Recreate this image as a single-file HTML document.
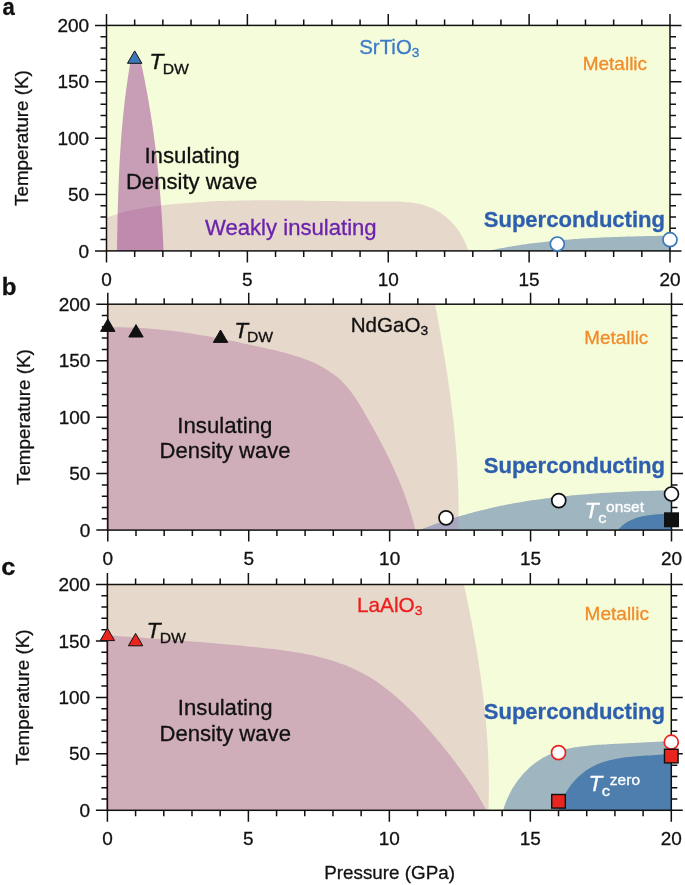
<!DOCTYPE html>
<html><head><meta charset="utf-8"><style>
html,body{margin:0;padding:0;background:#fff;}
svg{display:block;will-change:transform;}
text{font-family:'Liberation Sans',sans-serif;stroke-width:0.3px;} text:not([fill]){fill:#111;stroke:#111;}
</style></head><body>
<svg width="685" height="885" viewBox="0 0 685 885">
<rect width="685" height="885" fill="#fff"/>
<clipPath id="ca"><rect x="106.5" y="25.4" width="563.50" height="225.50"/></clipPath>
<g clip-path="url(#ca)">
<rect x="106.5" y="25.4" width="563.50" height="225.50" fill="#f5fcd9"/>
<path d="M104.50,218.70 C105.27,218.39 107.56,217.44 109.10,216.85 C110.64,216.26 112.19,215.71 113.75,215.18 C115.31,214.65 116.88,214.15 118.45,213.67 C120.03,213.19 121.61,212.74 123.20,212.31 C124.79,211.88 126.39,211.48 127.99,211.09 C129.59,210.71 131.20,210.35 132.81,210.00 C134.42,209.66 136.04,209.33 137.66,209.02 C139.28,208.72 140.90,208.43 142.53,208.15 C144.16,207.87 145.79,207.61 147.42,207.36 C149.05,207.11 150.69,206.88 152.33,206.65 C153.96,206.42 155.60,206.21 157.24,206.00 C158.88,205.79 160.52,205.59 162.16,205.40 C163.79,205.21 165.43,205.03 167.07,204.85 C168.71,204.67 170.35,204.50 171.98,204.33 C173.62,204.16 175.26,204.01 176.90,203.85 C178.54,203.70 180.17,203.55 181.81,203.41 C183.45,203.27 185.08,203.14 186.72,203.01 C188.36,202.88 190.00,202.75 191.63,202.64 C193.27,202.52 194.91,202.40 196.54,202.30 C198.18,202.19 199.82,202.09 201.45,201.99 C203.09,201.89 204.73,201.80 206.36,201.72 C208.00,201.63 209.64,201.55 211.27,201.47 C212.91,201.39 214.55,201.32 216.18,201.25 C217.82,201.18 219.46,201.12 221.10,201.06 C222.73,201.00 224.37,200.95 226.01,200.90 C227.65,200.84 229.28,200.80 230.92,200.75 C232.56,200.71 234.20,200.67 235.83,200.64 C237.47,200.60 239.11,200.57 240.75,200.54 C242.39,200.51 244.03,200.48 245.66,200.46 C247.30,200.44 248.94,200.42 250.58,200.41 C252.22,200.39 253.86,200.38 255.50,200.37 C257.14,200.36 258.78,200.35 260.42,200.34 C262.06,200.34 263.70,200.34 265.34,200.34 C266.98,200.34 268.63,200.34 270.27,200.34 C271.91,200.35 273.55,200.35 275.19,200.36 C276.84,200.37 278.48,200.38 280.12,200.39 C281.77,200.40 283.41,200.42 285.05,200.43 C286.70,200.45 288.34,200.46 289.99,200.48 C291.63,200.50 293.28,200.52 294.92,200.54 C296.57,200.56 298.22,200.58 299.86,200.60 C301.51,200.63 303.16,200.65 304.81,200.67 C306.45,200.70 308.10,200.72 309.75,200.75 C311.40,200.77 313.05,200.80 314.70,200.82 C316.35,200.85 318.00,200.87 319.65,200.90 C321.31,200.92 322.96,200.95 324.61,200.97 C326.26,201.00 327.92,201.02 329.57,201.05 C331.23,201.07 332.88,201.10 334.54,201.12 C336.19,201.15 337.85,201.17 339.50,201.19 C341.16,201.21 342.82,201.23 344.48,201.25 C346.14,201.28 347.79,201.29 349.45,201.31 C351.11,201.33 352.78,201.35 354.44,201.36 C356.10,201.38 357.76,201.39 359.42,201.40 C361.09,201.42 362.75,201.43 364.42,201.43 C366.08,201.44 367.75,201.45 369.41,201.45 C371.08,201.46 372.75,201.46 374.42,201.46 C376.08,201.46 377.75,201.46 379.42,201.45 C381.09,201.45 382.77,201.44 384.44,201.43 C386.11,201.43 387.78,201.42 389.44,201.43 C391.11,201.44 392.78,201.45 394.43,201.48 C396.09,201.51 397.75,201.55 399.40,201.62 C401.05,201.69 402.69,201.78 404.32,201.89 C405.95,202.01 407.58,202.15 409.19,202.33 C410.80,202.51 412.41,202.71 414.00,202.97 C415.59,203.22 417.17,203.51 418.73,203.85 C420.29,204.18 421.84,204.56 423.37,205.00 C424.90,205.44 426.42,205.92 427.91,206.47 C429.41,207.02 430.89,207.63 432.34,208.30 C433.80,208.97 435.24,209.70 436.65,210.49 C438.06,211.28 439.44,212.13 440.80,213.04 C442.15,213.95 443.48,214.91 444.77,215.93 C446.07,216.94 447.33,218.02 448.55,219.14 C449.77,220.26 450.96,221.44 452.10,222.66 C453.25,223.87 454.35,225.14 455.41,226.45 C456.47,227.75 457.49,229.11 458.45,230.49 C459.42,231.86 460.33,233.28 461.20,234.73 C462.06,236.17 462.87,237.64 463.63,239.13 C464.38,240.62 465.08,242.14 465.72,243.67 C466.36,245.20 466.94,246.75 467.45,248.31 C467.97,249.86 468.58,252.22 468.80,253.00 L104.5,253 Z" fill="#e6d8cb"/>
<path d="M485.30,251.40 C485.69,251.31 486.85,251.06 487.63,250.89 C488.41,250.72 489.19,250.56 489.96,250.40 C490.74,250.23 491.52,250.07 492.30,249.91 C493.08,249.75 493.86,249.60 494.64,249.44 C495.42,249.28 496.20,249.13 496.98,248.98 C497.76,248.83 498.54,248.68 499.32,248.53 C500.10,248.38 500.88,248.23 501.66,248.09 C502.44,247.94 503.22,247.80 504.01,247.66 C504.79,247.52 505.57,247.38 506.35,247.24 C507.14,247.11 507.92,246.97 508.70,246.84 C509.49,246.70 510.27,246.57 511.05,246.44 C511.84,246.31 512.62,246.18 513.41,246.05 C514.19,245.92 514.98,245.80 515.76,245.68 C516.55,245.55 517.33,245.43 518.12,245.31 C518.90,245.19 519.69,245.07 520.48,244.95 C521.26,244.83 522.05,244.72 522.84,244.60 C523.62,244.49 524.41,244.38 525.20,244.27 C525.99,244.16 526.77,244.05 527.56,243.94 C528.35,243.83 529.14,243.72 529.93,243.62 C530.71,243.51 531.50,243.41 532.29,243.31 C533.08,243.21 533.87,243.11 534.66,243.01 C535.45,242.91 536.24,242.81 537.03,242.71 C537.82,242.62 538.61,242.52 539.40,242.43 C540.19,242.34 540.98,242.24 541.77,242.15 C542.56,242.06 543.35,241.97 544.14,241.89 C544.93,241.80 545.72,241.71 546.52,241.63 C547.31,241.54 548.10,241.46 548.89,241.37 C549.68,241.29 550.47,241.21 551.27,241.13 C552.06,241.05 552.85,240.97 553.64,240.90 C554.44,240.82 555.23,240.74 556.02,240.67 C556.82,240.59 557.61,240.52 558.40,240.45 C559.20,240.37 559.99,240.30 560.78,240.23 C561.58,240.16 562.37,240.09 563.16,240.02 C563.96,239.96 564.75,239.89 565.55,239.83 C566.34,239.76 567.13,239.70 567.93,239.63 C568.72,239.57 569.52,239.51 570.31,239.45 C571.11,239.38 571.90,239.32 572.70,239.27 C573.49,239.21 574.29,239.15 575.08,239.09 C575.88,239.04 576.67,238.98 577.47,238.92 C578.26,238.87 579.06,238.82 579.86,238.76 C580.65,238.71 581.45,238.66 582.24,238.61 C583.04,238.56 583.83,238.51 584.63,238.46 C585.43,238.41 586.22,238.36 587.02,238.31 C587.82,238.27 588.61,238.22 589.41,238.18 C590.20,238.13 591.00,238.09 591.80,238.04 C592.59,238.00 593.39,237.96 594.19,237.91 C594.98,237.87 595.78,237.83 596.58,237.79 C597.37,237.75 598.17,237.71 598.97,237.67 C599.76,237.63 600.56,237.60 601.36,237.56 C602.16,237.52 602.95,237.48 603.75,237.45 C604.55,237.41 605.34,237.38 606.14,237.34 C606.94,237.31 607.73,237.28 608.53,237.24 C609.33,237.21 610.13,237.18 610.92,237.15 C611.72,237.12 612.52,237.09 613.31,237.06 C614.11,237.03 614.91,237.00 615.71,236.97 C616.50,236.94 617.30,236.91 618.10,236.88 C618.89,236.85 619.69,236.83 620.49,236.80 C621.29,236.77 622.08,236.75 622.88,236.72 C623.68,236.70 624.47,236.67 625.27,236.65 C626.07,236.62 626.87,236.60 627.66,236.58 C628.46,236.55 629.26,236.53 630.05,236.51 C630.85,236.48 631.65,236.46 632.44,236.44 C633.24,236.42 634.04,236.40 634.83,236.38 C635.63,236.36 636.43,236.34 637.22,236.32 C638.02,236.30 638.82,236.28 639.61,236.26 C640.41,236.24 641.21,236.22 642.00,236.20 C642.80,236.18 643.59,236.17 644.39,236.15 C645.19,236.13 645.98,236.11 646.78,236.10 C647.57,236.08 648.37,236.06 649.17,236.04 C649.96,236.03 650.76,236.01 651.55,236.00 C652.35,235.98 653.14,235.96 653.94,235.95 C654.73,235.93 655.53,235.92 656.32,235.90 C657.12,235.89 657.91,235.87 658.71,235.86 C659.50,235.84 660.30,235.83 661.09,235.81 C661.89,235.80 662.68,235.78 663.48,235.77 C664.27,235.75 665.06,235.74 665.86,235.73 C666.65,235.71 667.45,235.70 668.24,235.68 C669.03,235.67 669.83,235.66 670.62,235.64 C671.41,235.63 672.60,235.61 673.00,235.60 L673,253 L485,253 Z" fill="#9fb5bf"/>
<path d="M116.90,252.90 C116.91,252.09 116.95,249.66 116.98,248.04 C117.01,246.42 117.03,244.80 117.06,243.18 C117.09,241.56 117.12,239.94 117.15,238.32 C117.18,236.70 117.21,235.08 117.24,233.46 C117.27,231.84 117.30,230.22 117.33,228.60 C117.37,226.98 117.40,225.36 117.44,223.74 C117.47,222.12 117.51,220.49 117.54,218.87 C117.58,217.25 117.62,215.63 117.66,214.01 C117.70,212.38 117.74,210.76 117.79,209.14 C117.83,207.52 117.87,205.90 117.92,204.27 C117.97,202.65 118.02,201.03 118.07,199.41 C118.12,197.79 118.17,196.16 118.22,194.54 C118.28,192.92 118.33,191.30 118.39,189.68 C118.45,188.05 118.51,186.43 118.57,184.81 C118.64,183.19 118.70,181.57 118.77,179.94 C118.84,178.32 118.91,176.70 118.98,175.08 C119.06,173.46 119.13,171.84 119.21,170.22 C119.29,168.59 119.37,166.97 119.46,165.35 C119.54,163.73 119.63,162.11 119.72,160.49 C119.81,158.87 119.90,157.25 120.00,155.63 C120.10,154.01 120.20,152.39 120.30,150.77 C120.40,149.15 120.51,147.54 120.62,145.92 C120.73,144.30 120.85,142.68 120.96,141.06 C121.08,139.44 121.20,137.83 121.33,136.21 C121.45,134.59 121.58,132.98 121.72,131.36 C121.85,129.74 121.99,128.13 122.13,126.51 C122.27,124.90 122.42,123.28 122.57,121.67 C122.72,120.05 122.87,118.44 123.03,116.82 C123.19,115.21 123.35,113.60 123.52,111.99 C123.69,110.37 123.86,108.76 124.04,107.15 C124.22,105.54 124.40,103.93 124.59,102.32 C124.77,100.71 124.96,99.10 125.16,97.49 C125.36,95.88 125.56,94.27 125.77,92.66 C125.98,91.05 126.19,89.45 126.41,87.84 C126.62,86.23 126.85,84.63 127.08,83.02 C127.31,81.42 127.54,79.81 127.78,78.21 C128.02,76.61 128.27,75.00 128.52,73.40 C128.77,71.80 129.03,70.20 129.29,68.60 C129.55,67.00 129.96,64.60 130.10,63.80 C130.40,60.30 140.90,60.00 141.20,63.50 C141.37,64.30 141.89,66.69 142.23,68.29 C142.57,69.88 142.91,71.48 143.24,73.08 C143.57,74.67 143.89,76.27 144.21,77.87 C144.54,79.47 144.85,81.07 145.16,82.67 C145.48,84.28 145.78,85.88 146.09,87.48 C146.39,89.08 146.69,90.69 146.98,92.29 C147.28,93.90 147.57,95.50 147.85,97.11 C148.14,98.72 148.42,100.32 148.70,101.93 C148.97,103.54 149.25,105.15 149.51,106.76 C149.78,108.37 150.05,109.98 150.31,111.59 C150.57,113.20 150.82,114.81 151.07,116.42 C151.32,118.04 151.57,119.65 151.82,121.26 C152.06,122.88 152.30,124.49 152.53,126.10 C152.77,127.72 153.00,129.34 153.23,130.95 C153.45,132.57 153.68,134.18 153.90,135.80 C154.12,137.42 154.33,139.04 154.54,140.66 C154.75,142.27 154.96,143.89 155.17,145.51 C155.37,147.13 155.57,148.75 155.76,150.37 C155.96,151.99 156.15,153.61 156.34,155.24 C156.53,156.86 156.72,158.48 156.90,160.10 C157.08,161.73 157.26,163.35 157.43,164.97 C157.60,166.59 157.77,168.22 157.94,169.84 C158.11,171.47 158.27,173.09 158.43,174.72 C158.59,176.34 158.75,177.97 158.90,179.59 C159.05,181.22 159.20,182.84 159.35,184.47 C159.49,186.10 159.63,187.72 159.77,189.35 C159.91,190.98 160.05,192.61 160.18,194.23 C160.31,195.86 160.44,197.49 160.57,199.12 C160.69,200.75 160.81,202.37 160.93,204.00 C161.05,205.63 161.17,207.26 161.28,208.89 C161.39,210.52 161.50,212.15 161.61,213.78 C161.72,215.41 161.82,217.04 161.92,218.66 C162.02,220.29 162.12,221.92 162.21,223.55 C162.31,225.18 162.40,226.81 162.49,228.44 C162.58,230.07 162.66,231.70 162.74,233.33 C162.83,234.97 162.91,236.60 162.98,238.23 C163.06,239.86 163.13,241.49 163.21,243.12 C163.28,244.75 163.35,246.38 163.41,248.01 C163.48,249.64 163.57,252.08 163.60,252.90 Z" fill="rgba(145,45,140,0.45)"/>
</g>
<rect x="106.5" y="25.4" width="563.50" height="225.50" fill="none" stroke="#111" stroke-width="1.5"/>
<path d="M106.50,250.90v11.5M106.50,25.40v-11.5M134.68,250.90v6M134.68,25.40v-6M162.85,250.90v6M162.85,25.40v-6M191.03,250.90v6M191.03,25.40v-6M219.20,250.90v6M219.20,25.40v-6M247.38,250.90v11.5M247.38,25.40v-11.5M275.55,250.90v6M275.55,25.40v-6M303.73,250.90v6M303.73,25.40v-6M331.90,250.90v6M331.90,25.40v-6M360.08,250.90v6M360.08,25.40v-6M388.25,250.90v11.5M388.25,25.40v-11.5M416.43,250.90v6M416.43,25.40v-6M444.60,250.90v6M444.60,25.40v-6M472.78,250.90v6M472.78,25.40v-6M500.95,250.90v6M500.95,25.40v-6M529.12,250.90v11.5M529.12,25.40v-11.5M557.30,250.90v6M557.30,25.40v-6M585.48,250.90v6M585.48,25.40v-6M613.65,250.90v6M613.65,25.40v-6M641.83,250.90v6M641.83,25.40v-6M670.00,250.90v11.5M670.00,25.40v-11.5M106.50,250.90h-11.5M670.00,250.90h11.5M106.50,239.62h-6M670.00,239.62h6M106.50,228.35h-6M670.00,228.35h6M106.50,217.08h-6M670.00,217.08h6M106.50,205.80h-6M670.00,205.80h6M106.50,194.53h-11.5M670.00,194.53h11.5M106.50,183.25h-6M670.00,183.25h6M106.50,171.98h-6M670.00,171.98h6M106.50,160.70h-6M670.00,160.70h6M106.50,149.43h-6M670.00,149.43h6M106.50,138.15h-11.5M670.00,138.15h11.5M106.50,126.88h-6M670.00,126.88h6M106.50,115.60h-6M670.00,115.60h6M106.50,104.33h-6M670.00,104.33h6M106.50,93.05h-6M670.00,93.05h6M106.50,81.78h-11.5M670.00,81.78h11.5M106.50,70.50h-6M670.00,70.50h6M106.50,59.23h-6M670.00,59.23h6M106.50,47.95h-6M670.00,47.95h6M106.50,36.68h-6M670.00,36.68h6M106.50,25.40h-11.5M670.00,25.40h11.5" stroke="#111" stroke-width="1.5" fill="none"/>
<text transform="translate(89.13,257.50) scale(1.015,1)" text-anchor="end" font-size="18.7">0</text>
<text transform="translate(89.13,201.12) scale(1.015,1)" text-anchor="end" font-size="18.7">50</text>
<text transform="translate(89.13,144.75) scale(1.015,1)" text-anchor="end" font-size="18.7">100</text>
<text transform="translate(89.13,88.38) scale(1.015,1)" text-anchor="end" font-size="18.7">150</text>
<text transform="translate(89.13,32.00) scale(1.015,1)" text-anchor="end" font-size="18.7">200</text>
<text transform="translate(106.50,286.00) scale(1.015,1)" text-anchor="middle" font-size="18.7">0</text>
<text transform="translate(247.38,286.00) scale(1.015,1)" text-anchor="middle" font-size="18.7">5</text>
<text transform="translate(388.25,286.00) scale(1.015,1)" text-anchor="middle" font-size="18.7">10</text>
<text transform="translate(529.12,286.00) scale(1.015,1)" text-anchor="middle" font-size="18.7">15</text>
<text transform="translate(670.00,286.00) scale(1.015,1)" text-anchor="middle" font-size="18.7">20</text>
<text transform="translate(28.15,138.05) rotate(-90) scale(1.0056,1)" text-anchor="middle" font-size="18.7">Temperature (K)</text>
<path d="M134.68,50.90L141.88,63.30L127.48,63.30Z" fill="#3a78b9" stroke="#111" stroke-width="1" stroke-linejoin="miter"/>
<circle cx="557.30" cy="244.00" r="7.0" fill="#fff" stroke="#3a78b9" stroke-width="1.7"/>
<circle cx="670.00" cy="239.70" r="7.0" fill="#fff" stroke="#3a78b9" stroke-width="1.7"/>
<clipPath id="cb"><rect x="106.5" y="304.2" width="565.00" height="225.90"/></clipPath>
<g clip-path="url(#cb)">
<rect x="107.8" y="304.2" width="563.70" height="225.90" fill="#f5fcd9"/>
<path d="M105.8,300.2 L434.3,300.2  C434.39,300.69 434.67,302.14 434.86,303.12 C435.04,304.09 435.23,305.06 435.41,306.03 C435.60,307.00 435.78,307.98 435.97,308.95 C436.15,309.92 436.34,310.89 436.52,311.87 C436.70,312.84 436.88,313.81 437.06,314.79 C437.25,315.76 437.43,316.73 437.61,317.70 C437.79,318.68 437.97,319.65 438.15,320.63 C438.33,321.60 438.50,322.57 438.68,323.55 C438.86,324.52 439.04,325.50 439.21,326.47 C439.39,327.44 439.57,328.42 439.74,329.39 C439.92,330.37 440.09,331.34 440.27,332.32 C440.44,333.29 440.61,334.27 440.78,335.24 C440.96,336.22 441.13,337.19 441.30,338.17 C441.47,339.14 441.64,340.12 441.81,341.10 C441.98,342.07 442.15,343.05 442.31,344.02 C442.48,345.00 442.65,345.98 442.81,346.95 C442.98,347.93 443.14,348.90 443.31,349.88 C443.47,350.86 443.64,351.83 443.80,352.81 C443.96,353.79 444.12,354.77 444.28,355.74 C444.44,356.72 444.60,357.70 444.76,358.67 C444.92,359.65 445.08,360.63 445.23,361.61 C445.39,362.59 445.55,363.56 445.70,364.54 C445.86,365.52 446.01,366.50 446.16,367.48 C446.31,368.45 446.47,369.43 446.62,370.41 C446.77,371.39 446.92,372.37 447.07,373.35 C447.22,374.33 447.36,375.31 447.51,376.29 C447.66,377.27 447.80,378.24 447.95,379.22 C448.09,380.20 448.23,381.18 448.38,382.16 C448.52,383.14 448.66,384.12 448.80,385.10 C448.94,386.08 449.08,387.06 449.21,388.04 C449.35,389.02 449.49,390.00 449.62,390.98 C449.76,391.97 449.89,392.95 450.02,393.93 C450.16,394.91 450.29,395.89 450.42,396.87 C450.55,397.85 450.68,398.83 450.81,399.81 C450.93,400.80 451.06,401.78 451.19,402.76 C451.31,403.74 451.43,404.72 451.56,405.70 C451.68,406.69 451.80,407.67 451.92,408.65 C452.04,409.63 452.16,410.62 452.28,411.60 C452.39,412.58 452.51,413.56 452.62,414.55 C452.74,415.53 452.85,416.51 452.96,417.50 C453.07,418.48 453.18,419.46 453.29,420.45 C453.40,421.43 453.51,422.41 453.62,423.40 C453.72,424.38 453.83,425.36 453.93,426.35 C454.03,427.33 454.13,428.31 454.23,429.30 C454.33,430.28 454.43,431.27 454.53,432.25 C454.62,433.24 454.72,434.22 454.81,435.21 C454.91,436.19 455.00,437.17 455.09,438.16 C455.18,439.14 455.27,440.13 455.36,441.12 C455.45,442.10 455.53,443.09 455.62,444.07 C455.70,445.06 455.78,446.04 455.86,447.03 C455.95,448.01 456.03,449.00 456.10,449.99 C456.18,450.97 456.26,451.96 456.33,452.94 C456.41,453.93 456.48,454.92 456.55,455.90 C456.62,456.89 456.69,457.88 456.76,458.86 C456.82,459.85 456.89,460.84 456.95,461.82 C457.02,462.81 457.08,463.80 457.14,464.78 C457.20,465.77 457.26,466.76 457.32,467.75 C457.37,468.73 457.43,469.72 457.48,470.71 C457.54,471.70 457.59,472.69 457.64,473.67 C457.69,474.66 457.73,475.65 457.78,476.64 C457.83,477.63 457.87,478.61 457.91,479.60 C457.95,480.59 457.99,481.58 458.03,482.57 C458.07,483.56 458.11,484.55 458.14,485.54 C458.18,486.52 458.21,487.51 458.24,488.50 C458.27,489.49 458.30,490.48 458.32,491.47 C458.35,492.46 458.38,493.45 458.40,494.44 C458.42,495.43 458.44,496.42 458.46,497.41 C458.48,498.40 458.49,499.39 458.51,500.38 C458.52,501.37 458.53,502.36 458.55,503.35 C458.56,504.34 458.56,505.33 458.57,506.32 C458.58,507.31 458.58,508.30 458.58,509.30 C458.58,510.29 458.58,511.28 458.58,512.27 C458.58,513.26 458.57,514.25 458.57,515.24 C458.56,516.23 458.55,517.23 458.54,518.22 C458.53,519.21 458.51,520.20 458.50,521.19 C458.48,522.18 458.46,523.18 458.44,524.17 C458.42,525.16 458.40,526.15 458.38,527.14 C458.35,528.14 458.32,529.13 458.29,530.12 C458.26,531.11 458.22,532.60 458.20,533.10 L105.8,533.1 Z" fill="#e6d8cb"/>
<path d="M419.00,530.60 C419.51,530.39 421.04,529.75 422.07,529.34 C423.09,528.92 424.11,528.51 425.14,528.10 C426.17,527.70 427.19,527.29 428.22,526.89 C429.25,526.50 430.28,526.10 431.31,525.71 C432.34,525.32 433.37,524.94 434.41,524.56 C435.44,524.18 436.48,523.80 437.51,523.43 C438.55,523.06 439.58,522.69 440.62,522.33 C441.66,521.96 442.70,521.60 443.74,521.25 C444.78,520.89 445.82,520.54 446.87,520.19 C447.91,519.85 448.95,519.51 450.00,519.17 C451.04,518.83 452.09,518.49 453.14,518.16 C454.18,517.83 455.23,517.51 456.28,517.18 C457.33,516.86 458.38,516.54 459.43,516.23 C460.48,515.91 461.54,515.60 462.59,515.30 C463.64,514.99 464.70,514.69 465.76,514.39 C466.81,514.09 467.87,513.79 468.93,513.50 C469.98,513.21 471.04,512.92 472.10,512.64 C473.16,512.35 474.22,512.07 475.28,511.80 C476.34,511.52 477.41,511.25 478.47,510.98 C479.53,510.71 480.60,510.44 481.66,510.18 C482.73,509.92 483.79,509.66 484.86,509.40 C485.93,509.15 486.99,508.90 488.06,508.65 C489.13,508.40 490.20,508.15 491.27,507.91 C492.34,507.67 493.41,507.43 494.49,507.20 C495.56,506.96 496.63,506.73 497.70,506.50 C498.78,506.28 499.85,506.05 500.93,505.83 C502.00,505.61 503.08,505.39 504.15,505.18 C505.23,504.96 506.31,504.75 507.38,504.54 C508.46,504.33 509.54,504.13 510.62,503.92 C511.70,503.72 512.78,503.52 513.86,503.32 C514.94,503.13 516.02,502.93 517.11,502.74 C518.19,502.55 519.27,502.37 520.35,502.18 C521.44,502.00 522.52,501.82 523.61,501.64 C524.69,501.46 525.78,501.28 526.86,501.11 C527.95,500.94 529.03,500.77 530.12,500.60 C531.21,500.43 532.29,500.27 533.38,500.11 C534.47,499.94 535.56,499.78 536.65,499.63 C537.74,499.47 538.83,499.32 539.92,499.17 C541.01,499.02 542.10,498.87 543.19,498.72 C544.28,498.58 545.37,498.43 546.46,498.29 C547.56,498.15 548.65,498.01 549.74,497.88 C550.83,497.74 551.93,497.61 553.02,497.48 C554.11,497.34 555.21,497.22 556.30,497.09 C557.40,496.96 558.49,496.84 559.59,496.72 C560.68,496.60 561.78,496.48 562.87,496.36 C563.97,496.24 565.07,496.13 566.16,496.02 C567.26,495.90 568.36,495.79 569.45,495.68 C570.55,495.58 571.65,495.47 572.75,495.37 C573.85,495.26 574.94,495.16 576.04,495.06 C577.14,494.96 578.24,494.86 579.34,494.77 C580.44,494.67 581.54,494.58 582.63,494.49 C583.73,494.39 584.83,494.30 585.93,494.22 C587.03,494.13 588.13,494.04 589.23,493.96 C590.33,493.87 591.43,493.79 592.53,493.71 C593.63,493.63 594.74,493.55 595.84,493.47 C596.94,493.40 598.04,493.32 599.14,493.25 C600.24,493.17 601.34,493.10 602.44,493.03 C603.54,492.96 604.64,492.89 605.74,492.82 C606.85,492.76 607.95,492.69 609.05,492.63 C610.15,492.56 611.25,492.50 612.35,492.44 C613.45,492.38 614.56,492.32 615.66,492.26 C616.76,492.20 617.86,492.15 618.96,492.09 C620.06,492.04 621.16,491.98 622.27,491.93 C623.37,491.88 624.47,491.82 625.57,491.77 C626.67,491.72 627.77,491.68 628.87,491.63 C629.97,491.58 631.07,491.53 632.17,491.49 C633.28,491.44 634.38,491.40 635.48,491.36 C636.58,491.31 637.68,491.27 638.78,491.23 C639.88,491.19 640.98,491.15 642.08,491.11 C643.18,491.07 644.28,491.04 645.38,491.00 C646.48,490.96 647.58,490.93 648.68,490.89 C649.77,490.86 650.87,490.82 651.97,490.79 C653.07,490.76 654.17,490.72 655.27,490.69 C656.37,490.66 657.46,490.63 658.56,490.60 C659.66,490.57 660.76,490.54 661.85,490.51 C662.95,490.48 664.05,490.46 665.14,490.43 C666.24,490.40 667.33,490.38 668.43,490.35 C669.53,490.32 670.62,490.30 671.72,490.27 C672.81,490.25 674.45,490.21 675.00,490.20 L675,533.1 L418,533.1 Z" fill="#9fb5bf"/>
<clipPath id="cbt"><path d="M105.8,300.2 L434.3,300.2  C434.39,300.69 434.67,302.14 434.86,303.12 C435.04,304.09 435.23,305.06 435.41,306.03 C435.60,307.00 435.78,307.98 435.97,308.95 C436.15,309.92 436.34,310.89 436.52,311.87 C436.70,312.84 436.88,313.81 437.06,314.79 C437.25,315.76 437.43,316.73 437.61,317.70 C437.79,318.68 437.97,319.65 438.15,320.63 C438.33,321.60 438.50,322.57 438.68,323.55 C438.86,324.52 439.04,325.50 439.21,326.47 C439.39,327.44 439.57,328.42 439.74,329.39 C439.92,330.37 440.09,331.34 440.27,332.32 C440.44,333.29 440.61,334.27 440.78,335.24 C440.96,336.22 441.13,337.19 441.30,338.17 C441.47,339.14 441.64,340.12 441.81,341.10 C441.98,342.07 442.15,343.05 442.31,344.02 C442.48,345.00 442.65,345.98 442.81,346.95 C442.98,347.93 443.14,348.90 443.31,349.88 C443.47,350.86 443.64,351.83 443.80,352.81 C443.96,353.79 444.12,354.77 444.28,355.74 C444.44,356.72 444.60,357.70 444.76,358.67 C444.92,359.65 445.08,360.63 445.23,361.61 C445.39,362.59 445.55,363.56 445.70,364.54 C445.86,365.52 446.01,366.50 446.16,367.48 C446.31,368.45 446.47,369.43 446.62,370.41 C446.77,371.39 446.92,372.37 447.07,373.35 C447.22,374.33 447.36,375.31 447.51,376.29 C447.66,377.27 447.80,378.24 447.95,379.22 C448.09,380.20 448.23,381.18 448.38,382.16 C448.52,383.14 448.66,384.12 448.80,385.10 C448.94,386.08 449.08,387.06 449.21,388.04 C449.35,389.02 449.49,390.00 449.62,390.98 C449.76,391.97 449.89,392.95 450.02,393.93 C450.16,394.91 450.29,395.89 450.42,396.87 C450.55,397.85 450.68,398.83 450.81,399.81 C450.93,400.80 451.06,401.78 451.19,402.76 C451.31,403.74 451.43,404.72 451.56,405.70 C451.68,406.69 451.80,407.67 451.92,408.65 C452.04,409.63 452.16,410.62 452.28,411.60 C452.39,412.58 452.51,413.56 452.62,414.55 C452.74,415.53 452.85,416.51 452.96,417.50 C453.07,418.48 453.18,419.46 453.29,420.45 C453.40,421.43 453.51,422.41 453.62,423.40 C453.72,424.38 453.83,425.36 453.93,426.35 C454.03,427.33 454.13,428.31 454.23,429.30 C454.33,430.28 454.43,431.27 454.53,432.25 C454.62,433.24 454.72,434.22 454.81,435.21 C454.91,436.19 455.00,437.17 455.09,438.16 C455.18,439.14 455.27,440.13 455.36,441.12 C455.45,442.10 455.53,443.09 455.62,444.07 C455.70,445.06 455.78,446.04 455.86,447.03 C455.95,448.01 456.03,449.00 456.10,449.99 C456.18,450.97 456.26,451.96 456.33,452.94 C456.41,453.93 456.48,454.92 456.55,455.90 C456.62,456.89 456.69,457.88 456.76,458.86 C456.82,459.85 456.89,460.84 456.95,461.82 C457.02,462.81 457.08,463.80 457.14,464.78 C457.20,465.77 457.26,466.76 457.32,467.75 C457.37,468.73 457.43,469.72 457.48,470.71 C457.54,471.70 457.59,472.69 457.64,473.67 C457.69,474.66 457.73,475.65 457.78,476.64 C457.83,477.63 457.87,478.61 457.91,479.60 C457.95,480.59 457.99,481.58 458.03,482.57 C458.07,483.56 458.11,484.55 458.14,485.54 C458.18,486.52 458.21,487.51 458.24,488.50 C458.27,489.49 458.30,490.48 458.32,491.47 C458.35,492.46 458.38,493.45 458.40,494.44 C458.42,495.43 458.44,496.42 458.46,497.41 C458.48,498.40 458.49,499.39 458.51,500.38 C458.52,501.37 458.53,502.36 458.55,503.35 C458.56,504.34 458.56,505.33 458.57,506.32 C458.58,507.31 458.58,508.30 458.58,509.30 C458.58,510.29 458.58,511.28 458.58,512.27 C458.58,513.26 458.57,514.25 458.57,515.24 C458.56,516.23 458.55,517.23 458.54,518.22 C458.53,519.21 458.51,520.20 458.50,521.19 C458.48,522.18 458.46,523.18 458.44,524.17 C458.42,525.16 458.40,526.15 458.38,527.14 C458.35,528.14 458.32,529.13 458.29,530.12 C458.26,531.11 458.22,532.60 458.20,533.10 L105.8,533.1 Z"/></clipPath>
<path d="M419.00,530.60 C419.51,530.39 421.04,529.75 422.07,529.34 C423.09,528.92 424.11,528.51 425.14,528.10 C426.17,527.70 427.19,527.29 428.22,526.89 C429.25,526.50 430.28,526.10 431.31,525.71 C432.34,525.32 433.37,524.94 434.41,524.56 C435.44,524.18 436.48,523.80 437.51,523.43 C438.55,523.06 439.58,522.69 440.62,522.33 C441.66,521.96 442.70,521.60 443.74,521.25 C444.78,520.89 445.82,520.54 446.87,520.19 C447.91,519.85 448.95,519.51 450.00,519.17 C451.04,518.83 452.09,518.49 453.14,518.16 C454.18,517.83 455.23,517.51 456.28,517.18 C457.33,516.86 458.38,516.54 459.43,516.23 C460.48,515.91 461.54,515.60 462.59,515.30 C463.64,514.99 464.70,514.69 465.76,514.39 C466.81,514.09 467.87,513.79 468.93,513.50 C469.98,513.21 471.04,512.92 472.10,512.64 C473.16,512.35 474.22,512.07 475.28,511.80 C476.34,511.52 477.41,511.25 478.47,510.98 C479.53,510.71 480.60,510.44 481.66,510.18 C482.73,509.92 483.79,509.66 484.86,509.40 C485.93,509.15 486.99,508.90 488.06,508.65 C489.13,508.40 490.20,508.15 491.27,507.91 C492.34,507.67 493.41,507.43 494.49,507.20 C495.56,506.96 496.63,506.73 497.70,506.50 C498.78,506.28 499.85,506.05 500.93,505.83 C502.00,505.61 503.08,505.39 504.15,505.18 C505.23,504.96 506.31,504.75 507.38,504.54 C508.46,504.33 509.54,504.13 510.62,503.92 C511.70,503.72 512.78,503.52 513.86,503.32 C514.94,503.13 516.02,502.93 517.11,502.74 C518.19,502.55 519.27,502.37 520.35,502.18 C521.44,502.00 522.52,501.82 523.61,501.64 C524.69,501.46 525.78,501.28 526.86,501.11 C527.95,500.94 529.03,500.77 530.12,500.60 C531.21,500.43 532.29,500.27 533.38,500.11 C534.47,499.94 535.56,499.78 536.65,499.63 C537.74,499.47 538.83,499.32 539.92,499.17 C541.01,499.02 542.10,498.87 543.19,498.72 C544.28,498.58 545.37,498.43 546.46,498.29 C547.56,498.15 548.65,498.01 549.74,497.88 C550.83,497.74 551.93,497.61 553.02,497.48 C554.11,497.34 555.21,497.22 556.30,497.09 C557.40,496.96 558.49,496.84 559.59,496.72 C560.68,496.60 561.78,496.48 562.87,496.36 C563.97,496.24 565.07,496.13 566.16,496.02 C567.26,495.90 568.36,495.79 569.45,495.68 C570.55,495.58 571.65,495.47 572.75,495.37 C573.85,495.26 574.94,495.16 576.04,495.06 C577.14,494.96 578.24,494.86 579.34,494.77 C580.44,494.67 581.54,494.58 582.63,494.49 C583.73,494.39 584.83,494.30 585.93,494.22 C587.03,494.13 588.13,494.04 589.23,493.96 C590.33,493.87 591.43,493.79 592.53,493.71 C593.63,493.63 594.74,493.55 595.84,493.47 C596.94,493.40 598.04,493.32 599.14,493.25 C600.24,493.17 601.34,493.10 602.44,493.03 C603.54,492.96 604.64,492.89 605.74,492.82 C606.85,492.76 607.95,492.69 609.05,492.63 C610.15,492.56 611.25,492.50 612.35,492.44 C613.45,492.38 614.56,492.32 615.66,492.26 C616.76,492.20 617.86,492.15 618.96,492.09 C620.06,492.04 621.16,491.98 622.27,491.93 C623.37,491.88 624.47,491.82 625.57,491.77 C626.67,491.72 627.77,491.68 628.87,491.63 C629.97,491.58 631.07,491.53 632.17,491.49 C633.28,491.44 634.38,491.40 635.48,491.36 C636.58,491.31 637.68,491.27 638.78,491.23 C639.88,491.19 640.98,491.15 642.08,491.11 C643.18,491.07 644.28,491.04 645.38,491.00 C646.48,490.96 647.58,490.93 648.68,490.89 C649.77,490.86 650.87,490.82 651.97,490.79 C653.07,490.76 654.17,490.72 655.27,490.69 C656.37,490.66 657.46,490.63 658.56,490.60 C659.66,490.57 660.76,490.54 661.85,490.51 C662.95,490.48 664.05,490.46 665.14,490.43 C666.24,490.40 667.33,490.38 668.43,490.35 C669.53,490.32 670.62,490.30 671.72,490.27 C672.81,490.25 674.45,490.21 675.00,490.20 L675,533.1 L418,533.1 Z" fill="#a7a6c1" clip-path="url(#cbt)"/>
<path d="M617.30,531.10 C617.38,530.99 617.61,530.66 617.76,530.45 C617.92,530.24 618.08,530.03 618.24,529.82 C618.41,529.61 618.57,529.41 618.74,529.21 C618.90,529.00 619.07,528.81 619.24,528.61 C619.41,528.41 619.59,528.22 619.76,528.03 C619.94,527.84 620.11,527.65 620.29,527.46 C620.47,527.28 620.65,527.09 620.84,526.91 C621.02,526.73 621.20,526.55 621.39,526.38 C621.58,526.20 621.77,526.03 621.96,525.86 C622.15,525.69 622.34,525.52 622.53,525.36 C622.73,525.19 622.93,525.03 623.12,524.87 C623.32,524.71 623.52,524.55 623.72,524.39 C623.93,524.24 624.13,524.08 624.33,523.93 C624.54,523.78 624.75,523.63 624.95,523.49 C625.16,523.34 625.37,523.20 625.58,523.05 C625.80,522.91 626.01,522.77 626.23,522.63 C626.44,522.50 626.66,522.36 626.87,522.23 C627.09,522.10 627.31,521.97 627.53,521.84 C627.76,521.71 627.98,521.58 628.20,521.46 C628.43,521.33 628.65,521.21 628.88,521.09 C629.11,520.97 629.33,520.85 629.56,520.74 C629.79,520.62 630.03,520.51 630.26,520.40 C630.49,520.28 630.72,520.17 630.96,520.07 C631.19,519.96 631.43,519.85 631.67,519.75 C631.91,519.65 632.15,519.54 632.39,519.44 C632.63,519.34 632.87,519.24 633.11,519.15 C633.35,519.05 633.60,518.96 633.84,518.86 C634.09,518.77 634.33,518.68 634.58,518.59 C634.82,518.50 635.07,518.41 635.32,518.33 C635.57,518.24 635.82,518.16 636.07,518.08 C636.32,517.99 636.57,517.91 636.83,517.83 C637.08,517.75 637.33,517.68 637.59,517.60 C637.84,517.52 638.10,517.45 638.36,517.38 C638.61,517.31 638.87,517.23 639.13,517.16 C639.39,517.10 639.65,517.03 639.91,516.96 C640.17,516.89 640.43,516.83 640.69,516.77 C640.95,516.70 641.21,516.64 641.47,516.58 C641.74,516.52 642.00,516.46 642.26,516.40 C642.53,516.34 642.79,516.29 643.06,516.23 C643.32,516.18 643.59,516.12 643.86,516.07 C644.12,516.02 644.39,515.97 644.66,515.92 C644.92,515.87 645.19,515.82 645.46,515.77 C645.73,515.72 646.00,515.68 646.27,515.63 C646.54,515.58 646.81,515.54 647.08,515.50 C647.35,515.46 647.62,515.41 647.89,515.37 C648.16,515.33 648.43,515.29 648.70,515.25 C648.97,515.22 649.24,515.18 649.52,515.14 C649.79,515.11 650.06,515.07 650.33,515.04 C650.61,515.00 650.88,514.97 651.15,514.94 C651.42,514.90 651.70,514.87 651.97,514.84 C652.24,514.81 652.52,514.78 652.79,514.75 C653.06,514.72 653.34,514.69 653.61,514.67 C653.88,514.64 654.16,514.61 654.43,514.59 C654.71,514.56 654.98,514.54 655.25,514.51 C655.53,514.49 655.80,514.47 656.07,514.44 C656.35,514.42 656.62,514.40 656.89,514.38 C657.17,514.36 657.44,514.34 657.71,514.32 C657.98,514.30 658.26,514.28 658.53,514.26 C658.80,514.24 659.07,514.22 659.35,514.20 C659.62,514.19 659.89,514.17 660.16,514.15 C660.43,514.14 660.70,514.12 660.97,514.11 C661.24,514.09 661.51,514.08 661.78,514.06 C662.05,514.05 662.32,514.03 662.59,514.02 C662.86,514.00 663.13,513.99 663.40,513.98 C663.67,513.96 663.93,513.95 664.20,513.94 C664.47,513.93 664.74,513.92 665.00,513.90 C665.27,513.89 665.53,513.88 665.80,513.87 C666.06,513.86 666.33,513.85 666.59,513.84 C666.86,513.83 667.12,513.81 667.38,513.80 C667.64,513.79 667.90,513.78 668.17,513.77 C668.43,513.76 668.69,513.75 668.95,513.74 C669.21,513.73 669.46,513.72 669.72,513.71 C669.98,513.70 670.24,513.69 670.49,513.68 C670.75,513.67 671.00,513.66 671.26,513.65 C671.51,513.64 671.77,513.64 672.02,513.63 C672.27,513.62 672.52,513.61 672.77,513.60 C673.02,513.59 673.27,513.57 673.52,513.56 C673.77,513.55 674.02,513.54 674.26,513.53 C674.51,513.52 674.88,513.51 675.00,513.50 L675,533.1 Z" fill="#4d7ead"/>
<path d="M105.80,327.30 C106.69,327.29 109.36,327.23 111.14,327.22 C112.92,327.20 114.69,327.19 116.46,327.20 C118.24,327.21 120.01,327.23 121.77,327.26 C123.54,327.28 125.31,327.33 127.07,327.38 C128.83,327.43 130.59,327.49 132.35,327.56 C134.11,327.63 135.87,327.72 137.62,327.81 C139.37,327.90 141.13,328.01 142.88,328.12 C144.63,328.23 146.38,328.36 148.12,328.49 C149.87,328.62 151.61,328.76 153.36,328.92 C155.10,329.07 156.84,329.23 158.58,329.40 C160.32,329.56 162.06,329.74 163.80,329.93 C165.54,330.11 167.27,330.31 169.01,330.51 C170.74,330.72 172.47,330.93 174.21,331.15 C175.94,331.36 177.67,331.59 179.40,331.83 C181.13,332.06 182.86,332.30 184.59,332.55 C186.32,332.80 188.04,333.06 189.77,333.32 C191.50,333.58 193.22,333.85 194.95,334.13 C196.67,334.40 198.40,334.69 200.12,334.97 C201.84,335.26 203.57,335.56 205.29,335.86 C207.01,336.16 208.74,336.47 210.46,336.78 C212.18,337.09 213.90,337.41 215.63,337.73 C217.35,338.05 219.07,338.38 220.79,338.72 C222.51,339.05 224.23,339.39 225.96,339.73 C227.68,340.07 229.40,340.42 231.12,340.77 C232.84,341.12 234.57,341.47 236.29,341.83 C238.01,342.19 239.74,342.55 241.46,342.92 C243.18,343.28 244.91,343.65 246.63,344.03 C248.36,344.40 250.08,344.78 251.81,345.15 C253.53,345.53 255.26,345.91 256.99,346.30 C258.72,346.68 260.44,347.07 262.17,347.46 C263.90,347.85 265.63,348.24 267.37,348.63 C269.10,349.02 270.83,349.42 272.56,349.82 C274.29,350.23 276.02,350.63 277.74,351.05 C279.47,351.47 281.19,351.90 282.91,352.34 C284.63,352.78 286.34,353.23 288.05,353.70 C289.75,354.17 291.45,354.65 293.14,355.16 C294.83,355.66 296.51,356.18 298.18,356.73 C299.85,357.28 301.51,357.84 303.16,358.44 C304.81,359.03 306.44,359.65 308.07,360.30 C309.69,360.95 311.29,361.62 312.88,362.34 C314.47,363.05 316.05,363.79 317.61,364.56 C319.16,365.34 320.70,366.15 322.21,366.99 C323.73,367.83 325.22,368.71 326.69,369.63 C328.16,370.54 329.60,371.49 331.01,372.48 C332.43,373.47 333.82,374.49 335.17,375.56 C336.53,376.62 337.85,377.72 339.14,378.87 C340.43,380.01 341.69,381.19 342.91,382.41 C344.13,383.63 345.31,384.90 346.46,386.20 C347.61,387.50 348.71,388.85 349.79,390.22 C350.87,391.59 351.92,393.00 352.94,394.44 C353.96,395.87 354.95,397.33 355.93,398.81 C356.90,400.28 357.85,401.79 358.79,403.30 C359.73,404.81 360.64,406.34 361.55,407.87 C362.46,409.40 363.36,410.95 364.25,412.49 C365.14,414.04 366.02,415.58 366.90,417.13 C367.78,418.67 368.65,420.21 369.53,421.75 C370.40,423.29 371.26,424.83 372.12,426.37 C372.98,427.91 373.84,429.45 374.69,431.00 C375.54,432.54 376.38,434.08 377.22,435.62 C378.06,437.17 378.89,438.71 379.72,440.26 C380.54,441.80 381.36,443.35 382.17,444.90 C382.98,446.46 383.79,448.01 384.59,449.57 C385.38,451.13 386.17,452.69 386.95,454.26 C387.73,455.82 388.51,457.39 389.27,458.97 C390.03,460.54 390.79,462.12 391.54,463.71 C392.28,465.29 393.02,466.88 393.75,468.48 C394.48,470.07 395.20,471.68 395.90,473.28 C396.61,474.89 397.31,476.50 398.00,478.11 C398.68,479.73 399.36,481.35 400.03,482.98 C400.69,484.60 401.34,486.23 401.99,487.87 C402.63,489.50 403.26,491.14 403.87,492.79 C404.49,494.43 405.10,496.08 405.69,497.73 C406.28,499.39 406.86,501.05 407.42,502.71 C407.99,504.37 408.54,506.04 409.08,507.71 C409.61,509.38 410.14,511.06 410.65,512.74 C411.15,514.42 411.65,516.10 412.13,517.79 C412.60,519.48 413.07,521.17 413.51,522.87 C413.96,524.57 414.39,526.27 414.81,527.97 C415.22,529.68 415.80,532.25 416.00,533.10 L105.8,533.1 Z" fill="#cfadb9"/>
</g>
<rect x="107.8" y="304.2" width="563.70" height="225.90" fill="none" stroke="#111" stroke-width="1.5"/>
<path d="M107.80,530.10v11.5M107.80,304.20v-11.5M135.99,530.10v6M135.99,304.20v-6M164.17,530.10v6M164.17,304.20v-6M192.36,530.10v6M192.36,304.20v-6M220.54,530.10v6M220.54,304.20v-6M248.73,530.10v11.5M248.73,304.20v-11.5M276.91,530.10v6M276.91,304.20v-6M305.10,530.10v6M305.10,304.20v-6M333.28,530.10v6M333.28,304.20v-6M361.47,530.10v6M361.47,304.20v-6M389.65,530.10v11.5M389.65,304.20v-11.5M417.84,530.10v6M417.84,304.20v-6M446.02,530.10v6M446.02,304.20v-6M474.21,530.10v6M474.21,304.20v-6M502.39,530.10v6M502.39,304.20v-6M530.58,530.10v11.5M530.58,304.20v-11.5M558.76,530.10v6M558.76,304.20v-6M586.95,530.10v6M586.95,304.20v-6M615.13,530.10v6M615.13,304.20v-6M643.32,530.10v6M643.32,304.20v-6M671.50,530.10v11.5M671.50,304.20v-11.5M107.80,530.10h-11.5M671.50,530.10h11.5M107.80,518.81h-6M671.50,518.81h6M107.80,507.51h-6M671.50,507.51h6M107.80,496.22h-6M671.50,496.22h6M107.80,484.92h-6M671.50,484.92h6M107.80,473.62h-11.5M671.50,473.62h11.5M107.80,462.33h-6M671.50,462.33h6M107.80,451.04h-6M671.50,451.04h6M107.80,439.74h-6M671.50,439.74h6M107.80,428.44h-6M671.50,428.44h6M107.80,417.15h-11.5M671.50,417.15h11.5M107.80,405.86h-6M671.50,405.86h6M107.80,394.56h-6M671.50,394.56h6M107.80,383.26h-6M671.50,383.26h6M107.80,371.97h-6M671.50,371.97h6M107.80,360.68h-11.5M671.50,360.68h11.5M107.80,349.38h-6M671.50,349.38h6M107.80,338.08h-6M671.50,338.08h6M107.80,326.79h-6M671.50,326.79h6M107.80,315.50h-6M671.50,315.50h6M107.80,304.20h-11.5M671.50,304.20h11.5" stroke="#111" stroke-width="1.5" fill="none"/>
<text transform="translate(90.43,536.70) scale(1.015,1)" text-anchor="end" font-size="18.7">0</text>
<text transform="translate(90.43,480.23) scale(1.015,1)" text-anchor="end" font-size="18.7">50</text>
<text transform="translate(90.43,423.75) scale(1.015,1)" text-anchor="end" font-size="18.7">100</text>
<text transform="translate(90.43,367.28) scale(1.015,1)" text-anchor="end" font-size="18.7">150</text>
<text transform="translate(90.43,310.80) scale(1.015,1)" text-anchor="end" font-size="18.7">200</text>
<text transform="translate(107.80,565.20) scale(1.015,1)" text-anchor="middle" font-size="18.7">0</text>
<text transform="translate(248.73,565.20) scale(1.015,1)" text-anchor="middle" font-size="18.7">5</text>
<text transform="translate(389.65,565.20) scale(1.015,1)" text-anchor="middle" font-size="18.7">10</text>
<text transform="translate(530.58,565.20) scale(1.015,1)" text-anchor="middle" font-size="18.7">15</text>
<text transform="translate(671.50,565.20) scale(1.015,1)" text-anchor="middle" font-size="18.7">20</text>
<text transform="translate(29.65,417.10) rotate(-90) scale(1.0056,1)" text-anchor="middle" font-size="18.7">Temperature (K)</text>
<path d="M107.80,319.00L115.00,331.40L100.60,331.40Z" fill="#111" stroke="#111" stroke-width="1" stroke-linejoin="miter"/>
<path d="M135.99,324.60L143.19,337.00L128.79,337.00Z" fill="#111" stroke="#111" stroke-width="1" stroke-linejoin="miter"/>
<path d="M220.54,330.00L227.74,342.40L213.34,342.40Z" fill="#111" stroke="#111" stroke-width="1" stroke-linejoin="miter"/>
<circle cx="446.02" cy="517.90" r="7.0" fill="#fff" stroke="#111" stroke-width="1.7"/>
<circle cx="558.76" cy="500.60" r="7.0" fill="#fff" stroke="#111" stroke-width="1.7"/>
<circle cx="671.50" cy="494.00" r="7.0" fill="#fff" stroke="#111" stroke-width="1.7"/>
<rect x="664.70" y="513.00" width="13.6" height="13.6" fill="#111" stroke="#111" stroke-width="1.4"/>
<clipPath id="cc"><rect x="106.10000000000001" y="584.5" width="565.20" height="225.80"/></clipPath>
<g clip-path="url(#cc)">
<rect x="107.4" y="584.5" width="563.90" height="225.80" fill="#f5fcd9"/>
<path d="M105.4,580.5 L463.0,580.5  C463.11,580.98 463.43,582.43 463.64,583.40 C463.85,584.37 464.06,585.34 464.27,586.31 C464.48,587.27 464.69,588.24 464.90,589.21 C465.11,590.18 465.32,591.15 465.53,592.12 C465.73,593.09 465.94,594.06 466.14,595.03 C466.35,596.00 466.55,596.97 466.76,597.94 C466.96,598.91 467.16,599.88 467.36,600.85 C467.56,601.82 467.77,602.79 467.96,603.76 C468.16,604.73 468.36,605.70 468.56,606.67 C468.76,607.64 468.95,608.61 469.15,609.59 C469.34,610.56 469.54,611.53 469.73,612.50 C469.92,613.47 470.12,614.45 470.31,615.42 C470.50,616.39 470.69,617.36 470.88,618.34 C471.07,619.31 471.25,620.28 471.44,621.26 C471.63,622.23 471.81,623.21 472.00,624.18 C472.18,625.15 472.36,626.13 472.55,627.10 C472.73,628.08 472.91,629.05 473.09,630.03 C473.27,631.00 473.45,631.98 473.63,632.95 C473.80,633.93 473.98,634.90 474.15,635.88 C474.33,636.85 474.50,637.83 474.67,638.80 C474.85,639.78 475.02,640.76 475.19,641.73 C475.36,642.71 475.53,643.69 475.70,644.66 C475.86,645.64 476.03,646.62 476.19,647.59 C476.36,648.57 476.52,649.55 476.68,650.53 C476.85,651.50 477.01,652.48 477.17,653.46 C477.33,654.44 477.49,655.42 477.64,656.39 C477.80,657.37 477.96,658.35 478.11,659.33 C478.26,660.31 478.42,661.29 478.57,662.27 C478.72,663.25 478.87,664.22 479.02,665.20 C479.17,666.18 479.31,667.16 479.46,668.14 C479.61,669.12 479.75,670.10 479.89,671.08 C480.04,672.06 480.18,673.04 480.32,674.03 C480.46,675.01 480.60,675.99 480.73,676.97 C480.87,677.95 481.01,678.93 481.14,679.91 C481.28,680.89 481.41,681.87 481.54,682.86 C481.67,683.84 481.80,684.82 481.93,685.80 C482.06,686.78 482.18,687.77 482.31,688.75 C482.43,689.73 482.56,690.71 482.68,691.70 C482.80,692.68 482.92,693.66 483.04,694.64 C483.16,695.63 483.27,696.61 483.39,697.59 C483.50,698.58 483.62,699.56 483.73,700.54 C483.84,701.53 483.95,702.51 484.06,703.50 C484.17,704.48 484.28,705.46 484.38,706.45 C484.49,707.43 484.59,708.42 484.69,709.40 C484.79,710.39 484.90,711.37 484.99,712.36 C485.09,713.34 485.19,714.33 485.28,715.31 C485.38,716.30 485.47,717.28 485.56,718.27 C485.66,719.25 485.75,720.24 485.83,721.23 C485.92,722.21 486.01,723.20 486.09,724.18 C486.18,725.17 486.26,726.16 486.34,727.14 C486.42,728.13 486.50,729.12 486.58,730.10 C486.65,731.09 486.73,732.08 486.80,733.06 C486.88,734.05 486.95,735.04 487.02,736.03 C487.09,737.01 487.16,738.00 487.22,738.99 C487.29,739.98 487.35,740.96 487.41,741.95 C487.48,742.94 487.54,743.93 487.59,744.92 C487.65,745.90 487.71,746.89 487.76,747.88 C487.82,748.87 487.87,749.86 487.92,750.85 C487.97,751.84 488.02,752.83 488.07,753.81 C488.11,754.80 488.16,755.79 488.20,756.78 C488.24,757.77 488.28,758.76 488.32,759.75 C488.36,760.74 488.40,761.73 488.43,762.72 C488.46,763.71 488.50,764.70 488.53,765.69 C488.56,766.68 488.58,767.67 488.61,768.66 C488.64,769.65 488.66,770.64 488.68,771.63 C488.70,772.62 488.72,773.61 488.74,774.60 C488.76,775.59 488.77,776.58 488.79,777.58 C488.80,778.57 488.81,779.56 488.82,780.55 C488.83,781.54 488.84,782.53 488.84,783.52 C488.85,784.51 488.85,785.51 488.85,786.50 C488.85,787.49 488.85,788.48 488.84,789.47 C488.84,790.47 488.83,791.46 488.82,792.45 C488.81,793.44 488.80,794.43 488.79,795.43 C488.78,796.42 488.76,797.41 488.74,798.40 C488.72,799.40 488.70,800.39 488.68,801.38 C488.66,802.37 488.63,803.37 488.61,804.36 C488.58,805.35 488.55,806.35 488.52,807.34 C488.49,808.33 488.45,809.33 488.42,810.32 C488.38,811.31 488.32,812.80 488.30,813.30 L105.4,813.3 Z" fill="#e6d8cb"/>
<path d="M503.00,810.80 C503.13,810.38 503.49,809.13 503.75,808.30 C504.00,807.47 504.28,806.64 504.56,805.82 C504.84,805.00 505.13,804.18 505.44,803.37 C505.74,802.56 506.06,801.75 506.38,800.94 C506.71,800.14 507.05,799.34 507.39,798.55 C507.74,797.76 508.10,796.97 508.47,796.19 C508.84,795.41 509.22,794.63 509.60,793.86 C509.99,793.09 510.39,792.32 510.80,791.56 C511.21,790.81 511.63,790.05 512.06,789.31 C512.49,788.56 512.93,787.82 513.38,787.09 C513.83,786.36 514.29,785.63 514.76,784.92 C515.23,784.20 515.71,783.49 516.20,782.78 C516.68,782.08 517.18,781.39 517.69,780.70 C518.19,780.01 518.71,779.33 519.24,778.66 C519.76,777.99 520.29,777.32 520.84,776.67 C521.38,776.01 521.93,775.37 522.49,774.73 C523.05,774.09 523.62,773.46 524.20,772.84 C524.78,772.22 525.36,771.61 525.96,771.01 C526.55,770.41 527.15,769.82 527.76,769.24 C528.37,768.66 528.99,768.08 529.62,767.52 C530.25,766.96 530.88,766.41 531.52,765.87 C532.17,765.33 532.82,764.79 533.47,764.27 C534.13,763.75 534.80,763.25 535.47,762.75 C536.14,762.25 536.82,761.76 537.51,761.29 C538.20,760.81 538.89,760.35 539.59,759.89 C540.30,759.44 541.01,759.00 541.72,758.57 C542.44,758.14 543.16,757.73 543.89,757.32 C544.62,756.92 545.35,756.53 546.10,756.15 C546.84,755.77 547.59,755.40 548.34,755.05 C549.10,754.70 549.86,754.36 550.63,754.03 C551.40,753.70 552.17,753.38 552.95,753.08 C553.73,752.77 554.51,752.48 555.30,752.20 C556.09,751.92 556.89,751.65 557.69,751.39 C558.49,751.13 559.29,750.88 560.10,750.64 C560.91,750.40 561.73,750.17 562.54,749.95 C563.36,749.73 564.19,749.52 565.01,749.32 C565.84,749.12 566.67,748.93 567.50,748.75 C568.34,748.56 569.17,748.39 570.01,748.22 C570.85,748.06 571.70,747.90 572.54,747.74 C573.39,747.59 574.24,747.45 575.09,747.31 C575.94,747.17 576.80,747.04 577.65,746.92 C578.51,746.79 579.37,746.68 580.23,746.56 C581.09,746.45 581.95,746.35 582.81,746.24 C583.67,746.14 584.54,746.05 585.41,745.95 C586.27,745.86 587.14,745.78 588.00,745.69 C588.87,745.61 589.74,745.53 590.61,745.46 C591.48,745.38 592.35,745.31 593.22,745.24 C594.08,745.17 594.95,745.11 595.82,745.05 C596.69,744.98 597.56,744.92 598.43,744.86 C599.29,744.80 600.16,744.75 601.03,744.69 C601.89,744.64 602.76,744.58 603.62,744.53 C604.48,744.48 605.35,744.43 606.21,744.38 C607.07,744.32 607.93,744.27 608.79,744.22 C609.64,744.17 610.50,744.13 611.36,744.08 C612.21,744.03 613.07,743.98 613.92,743.94 C614.78,743.89 615.63,743.84 616.48,743.80 C617.33,743.75 618.18,743.71 619.03,743.66 C619.88,743.62 620.73,743.57 621.58,743.53 C622.43,743.48 623.28,743.44 624.13,743.40 C624.98,743.36 625.82,743.31 626.67,743.27 C627.51,743.23 628.36,743.19 629.21,743.14 C630.05,743.10 630.90,743.06 631.74,743.02 C632.59,742.98 633.43,742.94 634.27,742.90 C635.12,742.86 635.96,742.82 636.81,742.78 C637.65,742.73 638.49,742.69 639.34,742.65 C640.18,742.61 641.02,742.57 641.87,742.53 C642.71,742.49 643.55,742.45 644.40,742.41 C645.24,742.37 646.09,742.33 646.93,742.29 C647.77,742.25 648.62,742.21 649.46,742.16 C650.31,742.12 651.15,742.08 652.00,742.04 C652.84,742.00 653.69,741.96 654.54,741.91 C655.38,741.87 656.23,741.83 657.08,741.79 C657.92,741.74 658.77,741.70 659.62,741.65 C660.47,741.61 661.32,741.57 662.17,741.52 C663.02,741.48 663.87,741.43 664.72,741.38 C665.58,741.34 666.43,741.29 667.28,741.24 C668.14,741.20 668.99,741.15 669.85,741.10 C670.70,741.05 671.56,741.00 672.42,740.95 C673.28,740.90 674.57,740.82 675.00,740.80 L675,813.3 L502,813.3 Z" fill="#9fb5bf"/>
<path d="M558.40,811.30 C558.48,811.00 558.69,810.11 558.85,809.52 C559.01,808.93 559.17,808.34 559.34,807.75 C559.52,807.17 559.70,806.58 559.88,806.00 C560.07,805.42 560.27,804.85 560.47,804.27 C560.67,803.70 560.88,803.13 561.10,802.56 C561.32,802.00 561.54,801.43 561.77,800.87 C562.01,800.31 562.24,799.76 562.49,799.20 C562.74,798.65 562.99,798.10 563.25,797.56 C563.51,797.01 563.78,796.47 564.05,795.93 C564.32,795.40 564.60,794.86 564.89,794.33 C565.18,793.80 565.47,793.28 565.77,792.76 C566.07,792.24 566.38,791.72 566.69,791.21 C567.01,790.70 567.33,790.19 567.65,789.68 C567.98,789.18 568.31,788.68 568.65,788.19 C568.99,787.69 569.33,787.20 569.68,786.72 C570.03,786.23 570.39,785.75 570.75,785.28 C571.12,784.80 571.48,784.33 571.86,783.87 C572.23,783.40 572.61,782.94 573.00,782.49 C573.38,782.03 573.77,781.58 574.17,781.14 C574.57,780.70 574.97,780.26 575.38,779.82 C575.79,779.39 576.20,778.96 576.62,778.54 C577.04,778.12 577.46,777.70 577.89,777.29 C578.32,776.88 578.75,776.48 579.19,776.08 C579.63,775.68 580.07,775.29 580.52,774.90 C580.97,774.51 581.42,774.13 581.88,773.76 C582.34,773.38 582.80,773.01 583.27,772.65 C583.74,772.29 584.21,771.93 584.69,771.58 C585.17,771.23 585.65,770.89 586.13,770.56 C586.62,770.22 587.11,769.89 587.61,769.57 C588.10,769.24 588.60,768.93 589.10,768.62 C589.60,768.31 590.11,768.01 590.62,767.71 C591.13,767.42 591.65,767.13 592.17,766.85 C592.69,766.57 593.21,766.30 593.74,766.03 C594.26,765.76 594.79,765.51 595.33,765.25 C595.86,765.00 596.40,764.76 596.94,764.52 C597.48,764.28 598.03,764.06 598.57,763.83 C599.12,763.61 599.67,763.39 600.23,763.18 C600.78,762.98 601.34,762.77 601.90,762.58 C602.45,762.38 603.02,762.19 603.58,762.01 C604.15,761.82 604.71,761.64 605.28,761.47 C605.85,761.30 606.43,761.13 607.00,760.97 C607.57,760.81 608.15,760.66 608.73,760.50 C609.31,760.35 609.89,760.21 610.47,760.07 C611.05,759.93 611.64,759.79 612.22,759.66 C612.81,759.53 613.39,759.41 613.98,759.28 C614.57,759.16 615.16,759.04 615.75,758.93 C616.34,758.82 616.93,758.71 617.52,758.60 C618.11,758.50 618.71,758.39 619.30,758.30 C619.90,758.20 620.49,758.10 621.09,758.01 C621.69,757.92 622.28,757.83 622.88,757.75 C623.48,757.67 624.08,757.58 624.68,757.51 C625.28,757.43 625.88,757.35 626.48,757.28 C627.08,757.21 627.69,757.14 628.29,757.07 C628.89,757.00 629.49,756.94 630.10,756.88 C630.70,756.82 631.31,756.76 631.91,756.70 C632.51,756.64 633.12,756.58 633.72,756.53 C634.33,756.48 634.94,756.43 635.54,756.38 C636.15,756.33 636.75,756.28 637.36,756.23 C637.97,756.18 638.57,756.14 639.18,756.09 C639.79,756.05 640.39,756.01 641.00,755.96 C641.61,755.92 642.21,755.88 642.82,755.84 C643.43,755.80 644.03,755.76 644.64,755.72 C645.24,755.69 645.85,755.65 646.46,755.61 C647.06,755.57 647.67,755.53 648.27,755.50 C648.88,755.46 649.48,755.42 650.09,755.39 C650.69,755.35 651.30,755.31 651.90,755.27 C652.50,755.24 653.11,755.20 653.71,755.16 C654.31,755.12 654.91,755.09 655.51,755.05 C656.12,755.01 656.72,754.97 657.32,754.93 C657.92,754.88 658.51,754.84 659.11,754.80 C659.71,754.76 660.31,754.71 660.90,754.67 C661.50,754.62 662.10,754.57 662.69,754.53 C663.29,754.48 663.88,754.43 664.47,754.37 C665.06,754.32 665.66,754.27 666.25,754.21 C666.84,754.16 667.42,754.10 668.01,754.04 C668.60,753.98 669.19,753.92 669.77,753.85 C670.36,753.79 670.94,753.72 671.52,753.65 C672.11,753.58 672.69,753.51 673.27,753.43 C673.85,753.36 674.71,753.24 675.00,753.20 L675,813.3 Z" fill="#4d7ead"/>
<path d="M105.40,635.20 C106.37,635.27 109.29,635.47 111.22,635.60 C113.16,635.74 115.09,635.87 117.02,636.01 C118.95,636.14 120.87,636.27 122.79,636.41 C124.71,636.54 126.63,636.68 128.54,636.81 C130.46,636.94 132.37,637.08 134.27,637.21 C136.18,637.35 138.09,637.48 139.99,637.62 C141.89,637.75 143.79,637.89 145.68,638.02 C147.58,638.16 149.48,638.30 151.37,638.43 C153.26,638.57 155.15,638.71 157.04,638.85 C158.93,638.98 160.81,639.12 162.70,639.26 C164.58,639.40 166.46,639.54 168.35,639.68 C170.23,639.82 172.11,639.96 173.99,640.11 C175.87,640.25 177.75,640.39 179.63,640.54 C181.51,640.68 183.39,640.83 185.26,640.98 C187.14,641.12 189.02,641.27 190.90,641.42 C192.78,641.57 194.65,641.72 196.53,641.87 C198.41,642.03 200.29,642.18 202.17,642.33 C204.05,642.49 205.93,642.65 207.81,642.80 C209.69,642.96 211.58,643.12 213.46,643.28 C215.34,643.44 217.23,643.61 219.12,643.77 C221.00,643.94 222.89,644.10 224.78,644.27 C226.67,644.44 228.57,644.61 230.46,644.78 C232.36,644.95 234.25,645.13 236.15,645.30 C238.05,645.48 239.96,645.66 241.86,645.84 C243.77,646.02 245.67,646.20 247.59,646.39 C249.50,646.57 251.41,646.76 253.33,646.95 C255.25,647.14 257.17,647.33 259.09,647.53 C261.01,647.73 262.94,647.93 264.87,648.14 C266.79,648.35 268.72,648.56 270.65,648.79 C272.57,649.01 274.50,649.24 276.42,649.48 C278.35,649.72 280.28,649.96 282.20,650.22 C284.12,650.48 286.04,650.75 287.96,651.03 C289.88,651.31 291.79,651.60 293.70,651.91 C295.61,652.22 297.52,652.54 299.42,652.87 C301.32,653.21 303.22,653.56 305.11,653.93 C307.00,654.29 308.89,654.68 310.76,655.08 C312.64,655.48 314.51,655.90 316.37,656.34 C318.24,656.78 320.09,657.24 321.94,657.72 C323.78,658.20 325.62,658.70 327.45,659.22 C329.28,659.75 331.09,660.29 332.90,660.86 C334.71,661.43 336.50,662.03 338.29,662.65 C340.07,663.27 341.84,663.91 343.60,664.59 C345.36,665.26 347.10,665.96 348.84,666.69 C350.57,667.42 352.29,668.17 353.99,668.96 C355.69,669.75 357.38,670.56 359.05,671.41 C360.72,672.26 362.38,673.14 364.02,674.05 C365.66,674.96 367.29,675.90 368.90,676.87 C370.51,677.84 372.11,678.83 373.69,679.86 C375.27,680.88 376.84,681.93 378.39,683.00 C379.95,684.08 381.49,685.18 383.01,686.30 C384.54,687.42 386.05,688.57 387.55,689.74 C389.04,690.91 390.53,692.10 392.00,693.31 C393.47,694.52 394.93,695.75 396.38,697.00 C397.83,698.25 399.26,699.52 400.68,700.81 C402.10,702.10 403.51,703.40 404.91,704.72 C406.31,706.04 407.70,707.38 409.07,708.73 C410.45,710.08 411.81,711.45 413.16,712.82 C414.52,714.20 415.86,715.59 417.19,716.99 C418.52,718.39 419.84,719.81 421.16,721.23 C422.47,722.65 423.77,724.09 425.06,725.53 C426.35,726.97 427.63,728.42 428.90,729.87 C430.18,731.33 431.44,732.79 432.69,734.26 C433.95,735.73 435.19,737.20 436.43,738.67 C437.67,740.15 438.90,741.63 440.12,743.11 C441.34,744.59 442.55,746.08 443.75,747.56 C444.95,749.05 446.15,750.54 447.33,752.03 C448.52,753.53 449.70,755.02 450.86,756.53 C452.03,758.03 453.19,759.53 454.34,761.04 C455.48,762.55 456.62,764.06 457.75,765.58 C458.88,767.10 459.99,768.63 461.10,770.16 C462.20,771.69 463.30,773.23 464.38,774.77 C465.47,776.31 466.54,777.86 467.60,779.42 C468.66,780.97 469.71,782.53 470.75,784.10 C471.78,785.67 472.81,787.25 473.82,788.84 C474.83,790.42 475.83,792.02 476.82,793.62 C477.81,795.22 478.78,796.83 479.74,798.45 C480.70,800.07 481.65,801.70 482.58,803.34 C483.51,804.98 484.43,806.63 485.33,808.29 C486.24,809.95 487.56,812.46 488.00,813.30 L105.4,813.3 Z" fill="#cfadb9"/>
</g>
<rect x="107.4" y="584.5" width="563.90" height="225.80" fill="none" stroke="#111" stroke-width="1.5"/>
<path d="M107.40,810.30v11.5M107.40,584.50v-11.5M135.59,810.30v6M135.59,584.50v-6M163.79,810.30v6M163.79,584.50v-6M191.99,810.30v6M191.99,584.50v-6M220.18,810.30v6M220.18,584.50v-6M248.38,810.30v11.5M248.38,584.50v-11.5M276.57,810.30v6M276.57,584.50v-6M304.76,810.30v6M304.76,584.50v-6M332.96,810.30v6M332.96,584.50v-6M361.15,810.30v6M361.15,584.50v-6M389.35,810.30v11.5M389.35,584.50v-11.5M417.54,810.30v6M417.54,584.50v-6M445.74,810.30v6M445.74,584.50v-6M473.94,810.30v6M473.94,584.50v-6M502.13,810.30v6M502.13,584.50v-6M530.33,810.30v11.5M530.33,584.50v-11.5M558.52,810.30v6M558.52,584.50v-6M586.72,810.30v6M586.72,584.50v-6M614.91,810.30v6M614.91,584.50v-6M643.11,810.30v6M643.11,584.50v-6M671.30,810.30v11.5M671.30,584.50v-11.5M107.40,810.30h-11.5M671.30,810.30h11.5M107.40,799.01h-6M671.30,799.01h6M107.40,787.72h-6M671.30,787.72h6M107.40,776.43h-6M671.30,776.43h6M107.40,765.14h-6M671.30,765.14h6M107.40,753.85h-11.5M671.30,753.85h11.5M107.40,742.56h-6M671.30,742.56h6M107.40,731.27h-6M671.30,731.27h6M107.40,719.98h-6M671.30,719.98h6M107.40,708.69h-6M671.30,708.69h6M107.40,697.40h-11.5M671.30,697.40h11.5M107.40,686.11h-6M671.30,686.11h6M107.40,674.82h-6M671.30,674.82h6M107.40,663.53h-6M671.30,663.53h6M107.40,652.24h-6M671.30,652.24h6M107.40,640.95h-11.5M671.30,640.95h11.5M107.40,629.66h-6M671.30,629.66h6M107.40,618.37h-6M671.30,618.37h6M107.40,607.08h-6M671.30,607.08h6M107.40,595.79h-6M671.30,595.79h6M107.40,584.50h-11.5M671.30,584.50h11.5" stroke="#111" stroke-width="1.5" fill="none"/>
<text transform="translate(90.03,816.90) scale(1.015,1)" text-anchor="end" font-size="18.7">0</text>
<text transform="translate(90.03,760.45) scale(1.015,1)" text-anchor="end" font-size="18.7">50</text>
<text transform="translate(90.03,704.00) scale(1.015,1)" text-anchor="end" font-size="18.7">100</text>
<text transform="translate(90.03,647.55) scale(1.015,1)" text-anchor="end" font-size="18.7">150</text>
<text transform="translate(90.03,591.10) scale(1.015,1)" text-anchor="end" font-size="18.7">200</text>
<text transform="translate(107.40,845.40) scale(1.015,1)" text-anchor="middle" font-size="18.7">0</text>
<text transform="translate(248.38,845.40) scale(1.015,1)" text-anchor="middle" font-size="18.7">5</text>
<text transform="translate(389.35,845.40) scale(1.015,1)" text-anchor="middle" font-size="18.7">10</text>
<text transform="translate(530.33,845.40) scale(1.015,1)" text-anchor="middle" font-size="18.7">15</text>
<text transform="translate(671.30,845.40) scale(1.015,1)" text-anchor="middle" font-size="18.7">20</text>
<text transform="translate(29.45,697.40) rotate(-90) scale(1.0056,1)" text-anchor="middle" font-size="18.7">Temperature (K)</text>
<path d="M107.40,628.20L114.60,640.60L100.20,640.60Z" fill="#e8251f" stroke="#111" stroke-width="1" stroke-linejoin="miter"/>
<path d="M135.59,633.40L142.79,645.80L128.40,645.80Z" fill="#e8251f" stroke="#111" stroke-width="1" stroke-linejoin="miter"/>
<circle cx="558.52" cy="752.60" r="7.0" fill="#fff" stroke="#e8251f" stroke-width="1.7"/>
<circle cx="671.30" cy="742.20" r="7.0" fill="#fff" stroke="#e8251f" stroke-width="1.7"/>
<rect x="551.72" y="794.50" width="13.6" height="13.6" fill="#e8251f" stroke="#111" stroke-width="1.4"/>
<rect x="664.50" y="749.30" width="13.6" height="13.6" fill="#e8251f" stroke="#111" stroke-width="1.4"/>
<text transform="translate(2.38,15.30) scale(0.9000,1)" font-size="24.5" font-weight="bold" font-style="normal" fill="#111" stroke="#111">a</text>
<text transform="translate(1.73,295.00) scale(0.9800,1)" font-size="24.5" font-weight="bold" font-style="normal" fill="#111" stroke="#111">b</text>
<text transform="translate(1.31,574.70) scale(1.0383,1)" font-size="24.5" font-weight="bold" font-style="normal" fill="#111" stroke="#111">c</text>
<text transform="translate(149.19,69.00) scale(1.0308,1)" font-size="22.5" font-weight="normal" font-style="italic" fill="#111" stroke="#111">T</text>
<text transform="translate(162.64,73.50) scale(1.0511,1)" font-size="15" font-weight="normal" font-style="normal" fill="#111" stroke="#111">DW</text>
<text transform="translate(234.23,338.10) scale(1.0077,1)" font-size="22.5" font-weight="normal" font-style="italic" fill="#111" stroke="#111">T</text>
<text transform="translate(246.94,342.40) scale(1.0468,1)" font-size="15" font-weight="normal" font-style="normal" fill="#111" stroke="#111">DW</text>
<text transform="translate(146.60,638.40) scale(1.0231,1)" font-size="22.5" font-weight="normal" font-style="italic" fill="#111" stroke="#111">T</text>
<text transform="translate(159.64,642.60) scale(1.0511,1)" font-size="15" font-weight="normal" font-style="normal" fill="#111" stroke="#111">DW</text>
<text transform="translate(359.23,53.80) scale(1.0209,1)" font-size="20" font-weight="normal" font-style="normal" fill="#3b7bc9" stroke="#3b7bc9">SrTiO<tspan font-size="13.5" dy="3.2">3</tspan></text>
<text transform="translate(350.75,331.50) scale(1.0288,1)" font-size="20" font-weight="normal" font-style="normal" fill="#111" stroke="#111">NdGaO<tspan font-size="13.5" dy="3.2">3</tspan></text>
<text transform="translate(357.03,611.90) scale(1.0387,1)" font-size="20" font-weight="normal" font-style="normal" fill="#f01d1d" stroke="#f01d1d">LaAlO<tspan font-size="13.5" dy="3.2">3</tspan></text>
<text transform="translate(582.65,70.40) scale(1.0008,1)" font-size="19" font-weight="normal" font-style="normal" fill="#f08c2a" stroke="#f08c2a">Metallic</text>
<text transform="translate(584.36,344.00) scale(0.9928,1)" font-size="19" font-weight="normal" font-style="normal" fill="#f08c2a" stroke="#f08c2a">Metallic</text>
<text transform="translate(584.55,619.90) scale(1.0024,1)" font-size="19" font-weight="normal" font-style="normal" fill="#f08c2a" stroke="#f08c2a">Metallic</text>
<text transform="translate(144.43,163.40) scale(1.0116,1)" font-size="22" font-weight="normal" font-style="normal" fill="#111" stroke="#111">Insulating</text>
<text transform="translate(125.89,188.60) scale(1.0051,1)" font-size="22" font-weight="normal" font-style="normal" fill="#111" stroke="#111">Density wave</text>
<text transform="translate(177.23,432.60) scale(1.0105,1)" font-size="22" font-weight="normal" font-style="normal" fill="#111" stroke="#111">Insulating</text>
<text transform="translate(159.50,457.50) scale(1.0019,1)" font-size="22" font-weight="normal" font-style="normal" fill="#111" stroke="#111">Density wave</text>
<text transform="translate(177.84,715.40) scale(1.0072,1)" font-size="22" font-weight="normal" font-style="normal" fill="#111" stroke="#111">Insulating</text>
<text transform="translate(159.49,740.50) scale(1.0051,1)" font-size="22" font-weight="normal" font-style="normal" fill="#111" stroke="#111">Density wave</text>
<text transform="translate(205.00,235.10) scale(1.0059,1)" font-size="22" font-weight="normal" font-style="normal" fill="#6b22ad" stroke="#6b22ad">Weakly insulating</text>
<text transform="translate(483.70,226.60) scale(1.0036,1)" font-size="22" font-weight="bold" font-style="normal" fill="#2e5eae" stroke="#2e5eae">Superconducting</text>
<text transform="translate(483.70,472.60) scale(1.0036,1)" font-size="22" font-weight="bold" font-style="normal" fill="#2e5eae" stroke="#2e5eae">Superconducting</text>
<text transform="translate(483.70,718.90) scale(1.0036,1)" font-size="22" font-weight="bold" font-style="normal" fill="#2e5eae" stroke="#2e5eae">Superconducting</text>
<text transform="translate(584.59,518.20) scale(1.0308,1)" font-size="22.5" font-weight="normal" font-style="italic" fill="#fff" stroke="#fff">T</text>
<text transform="translate(598.19,523.30) scale(1.1200,1)" font-size="14.5" font-weight="normal" font-style="normal" fill="#fff" stroke="#fff">c</text>
<text transform="translate(606.01,511.80) scale(1.0734,1)" font-size="14.5" font-weight="normal" font-style="normal" fill="#fff" stroke="#fff">onset</text>
<text transform="translate(588.45,790.70) scale(1.0000,1)" font-size="22.5" font-weight="normal" font-style="italic" fill="#fff" stroke="#fff">T</text>
<text transform="translate(601.87,795.70) scale(1.1520,1)" font-size="14.5" font-weight="normal" font-style="normal" fill="#fff" stroke="#fff">c</text>
<text transform="translate(609.81,784.70) scale(1.0741,1)" font-size="14.5" font-weight="normal" font-style="normal" fill="#fff" stroke="#fff">zero</text>
<text transform="translate(324.24,879.40) scale(1.0071,1)" font-size="18.7" font-weight="normal" font-style="normal" fill="#111" stroke="#111">Pressure (GPa)</text>
</svg>
</body></html>
